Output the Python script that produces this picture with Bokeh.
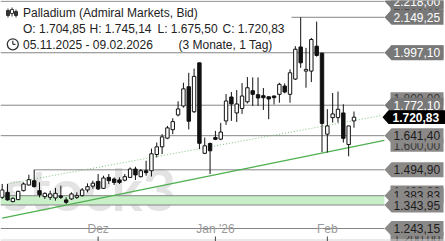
import pandas as pd
from bokeh.plotting import figure
from bokeh.models import Range1d
from bokeh.core.properties import value
from bokeh.embed import file_html
from bokeh.resources import INLINE

# ---------------- data ----------------
title = "Palladium (Admiral Markets, Bid)"
ohlc_text = ["O: 1.704,85", "H: 1.745,14", "L: 1.675,50", "C: 1.720,83"]
period_text = ["05.11.2025 - 09.02.2026", "(3 Monate, 1 Tag)"]
watermark = "stock3"

holidays = ["2025-12-25", "2026-01-01"]
dates = [d for d in pd.bdate_range("2025-11-05", "2026-02-09") if d.strftime("%Y-%m-%d") not in holidays]

opens = [1376.9, 1398.3, 1358.5, 1367.1, 1405.5, 1429.9, 1448.3, 1405.5, 1379.9, 1376.9,
         1374.3, 1382.9, 1365.8, 1370.1, 1376.9, 1384.2, 1408.5, 1424.8, 1445.3, 1415.4,
         1462.4, 1455.5, 1451.3, 1450.4, 1462.4, 1498.3, 1465.4, 1491.0, 1491.0, 1560.7,
         1593.6, 1630.8, 1667.1, 1730.4, 1768.8, 1851.3, 1744.0, 1953.9, 1565.8, 1607.7,
         1633.3, 1626.5, 1704.7, 1807.3, 1738.9, 1758.1, 1786.8, 1834.2, 1817.1, 1812.9,
         1808.2, 1811.6, 1818.8, 1854.3, 1818.8, 1884.2, 2021.9, 1918.4, 1918.4, 2025.3,
         1995.4, 1647.9, 1718.8, 1718.8, 1738.9, 1603.4, 1704.85]
highs = [1434.2, 1434.2, 1376.9, 1405.5, 1441.0, 1473.9, 1494.9, 1441.0, 1398.3, 1405.5,
         1417.1, 1426.9, 1376.9, 1398.3, 1398.3, 1417.1, 1436.7, 1448.3, 1476.9, 1469.6,
         1476.9, 1462.4, 1462.4, 1476.9, 1505.1, 1508.1, 1498.3, 1533.8, 1585.9, 1612.0,
         1647.9, 1683.3, 1716.3, 1788.9, 1868.4, 1911.2, 1929.1, 1953.9, 1633.3, 1612.0,
         1662.0, 1696.2, 1820.1, 1828.7, 1837.2, 1867.1, 1892.8, 1891.5, 1891.5, 1845.8,
         1809.4, 1813.7, 1868.4, 1865.8, 1925.7, 2025.3, 2149.25, 2018.0, 2060.7, 2130.8,
         1997.1, 1755.2, 1824.4, 1830.8, 1776.1, 1683.3, 1745.14]
lows = [1370.1, 1362.8, 1355.5, 1365.8, 1402.5, 1426.9, 1419.7, 1376.9, 1370.1, 1365.8,
        1362.8, 1370.1, 1348.7, 1365.8, 1370.1, 1379.9, 1398.3, 1414.1, 1408.5, 1412.8,
        1434.2, 1429.9, 1434.2, 1445.3, 1459.8, 1451.3, 1462.4, 1469.6, 1466.2, 1547.9,
        1562.4, 1626.5, 1647.9, 1724.0, 1761.6, 1668.4, 1738.9, 1583.8, 1562.4, 1476.9,
        1622.2, 1622.2, 1687.6, 1704.7, 1700.4, 1734.6, 1779.5, 1768.8, 1768.8, 1751.7,
        1712.0, 1775.2, 1782.9, 1823.1, 1782.9, 1880.0, 1932.5, 1847.0, 1871.4, 1980.4,
        1570.9, 1569.2, 1697.5, 1697.5, 1612.0, 1553.0, 1675.50]
closes = [1408.5, 1365.8, 1372.6, 1402.5, 1434.2, 1452.6, 1422.6, 1388.4, 1394.0, 1391.4,
          1394.0, 1376.9, 1355.5, 1391.4, 1384.2, 1408.5, 1422.6, 1437.6, 1412.8, 1459.8,
          1448.3, 1441.0, 1441.0, 1465.4, 1498.3, 1473.1, 1491.0, 1482.5, 1563.7, 1593.6,
          1636.3, 1674.8, 1701.7, 1756.0, 1842.3, 1703.4, 1895.8, 1608.6, 1597.9, 1576.5,
          1625.7, 1656.9, 1790.2, 1777.4, 1777.4, 1811.6, 1847.0, 1818.8, 1803.0, 1804.3,
          1798.7, 1804.3, 1861.6, 1828.7, 1911.2, 2012.4, 1953.9, 1925.7, 2053.9, 1985.5,
          1694.0, 1683.3, 1734.6, 1754.7, 1629.9, 1683.3, 1720.83]

resistance_levels = [2218.00, 2149.25, 1997.10, 1772.10]
support_levels = [1641.40, 1494.90, 1383.83, 1343.95, 1243.15]
level_start_bar = {1494.90: 6}
band = [1383.83, 1343.95]
axis_ticks = [2200, 2000, 1800, 1600, 1400, 1200]
month_labels = ["Dez", "Jan '26", "Feb"]
month_starts = ["2025-12", "2026-01", "2026-02"]

trend_green_x = [0, 71.7]
trend_green_y = [1287.6, 1621.2]
trend_dot_x = [1, 71.2]
trend_dot_y = [1434.9, 1727.9]

# ---------------- layout helpers ----------------
W, H = 445, 241
BAR0_PX, BAR_PX = 1.7, 5.33
PRICE_TOP, PRICE_PER_PX = 2221.3, 4.29


def X(px):
    return (px - BAR0_PX) / BAR_PX


def Y(py):
    return PRICE_TOP - PRICE_PER_PX * py


def PY(price):
    return (PRICE_TOP - price) / PRICE_PER_PX


def de(v):
    s = f"{v:,.2f}"
    return s.replace(",", "X").replace(".", ",").replace("X", ".")


FONT = value("Liberation Sans")

p = figure(width=W, height=H, x_range=Range1d(X(0), X(W)), y_range=Range1d(Y(H), Y(0)),
           output_backend="svg", toolbar_location=None, x_axis_type=None, y_axis_type=None,
           min_border=0, outline_line_color=None,
           background_fill_color="white", border_fill_color="white")

# watermark
p.text(x=[X(3)], y=[Y(188)], text=[watermark], text_font=value("Lato"), text_font_style="bold",
       text_font_size="58px", text_color="#e3e3e3", text_baseline="alphabetic", text_align="left")

# green zone
p.quad(left=[X(0)], right=[X(384)], top=[band[0]], bottom=[band[1]],
       fill_color="#c8efc8", line_color=None)

# horizontal levels
levels = resistance_levels + support_levels
p.segment(x0=[level_start_bar.get(v, X(0)) for v in levels], y0=levels,
          x1=[X(384)] * len(levels), y1=levels, line_color="#858585", line_width=1)

# trendlines
p.line(trend_dot_x, trend_dot_y, line_color="#7cc47c", line_width=1, line_dash="1 2")
p.line(trend_green_x, trend_green_y, line_color="#4fb04f", line_width=1.2)

# candles
idx = list(range(len(closes)))
p.segment(x0=idx, y0=lows, x1=idx, y1=highs, line_color="#111111", line_width=1)
p.vbar(x=idx, width=0.64, top=[max(o, c) for o, c in zip(opens, closes)],
       bottom=[min(o, c) for o, c in zip(opens, closes)],
       fill_color=["white" if c >= o else "#111111" for o, c in zip(opens, closes)],
       line_color="#111111", line_width=1)

# legend box
p.quad(left=[X(0)], right=[X(291)], top=[Y(3)], bottom=[Y(50)], fill_color="white", line_color=None)
# candle icon
icx = [7.5, 11.5, 15.5]
p.segment(x0=[X(x) for x in icx], y0=[Y(8), Y(7), Y(9)], x1=[X(x) for x in icx],
          y1=[Y(17), Y(16), Y(17)], line_color="#333333", line_width=1)
p.quad(left=[X(x - 1.5) for x in icx], right=[X(x + 1.5) for x in icx],
       top=[Y(10), Y(9), Y(11)], bottom=[Y(15), Y(13), Y(15)],
       fill_color=["#333333", "white", "#333333"], line_color="#333333", line_width=1)
# clock icon
p.scatter(x=[X(12.3)], y=[Y(43.8)], marker="circle", size=11, fill_color=None,
          line_color="#333333", line_width=1.3)
p.segment(x0=[X(12.3), X(12.3)], y0=[Y(43.8), Y(43.8)], x1=[X(12.3), X(15)], y1=[Y(40.3), Y(43.8)],
          line_color="#333333", line_width=1.2)

p.text(x=[X(22.5)], y=[Y(12)], text=[title], text_font=FONT, text_font_size="12px",
       text_color="#222222", text_baseline="middle")
p.text(x=[X(22.5), X(89), X(157), X(222)], y=[Y(28.3)] * 4, text=ohlc_text, text_font=FONT,
       text_font_size="12px", text_color="#222222", text_baseline="middle")
p.text(x=[X(22.5), X(178)], y=[Y(44)] * 2, text=period_text, text_font=FONT,
       text_font_size="12px", text_color="#222222", text_baseline="middle")

# price-axis tick labels (boxes, mostly covered by level labels)
p.quad(left=[X(390)] * len(axis_ticks), right=[X(443)] * len(axis_ticks),
       top=[Y(PY(v) - 6.5) for v in axis_ticks], bottom=[Y(PY(v) + 6.5) for v in axis_ticks],
       fill_color="#8b8988", line_color=None)
p.text(x=[X(393)] * len(axis_ticks), y=axis_ticks, text=[de(v) for v in axis_ticks], text_font=FONT,
       text_font_size="12px", text_color="#3a3a3a", text_baseline="middle")


def tag_shapes(vals, tip, body, right, half):
    xs, ys = [], []
    for v in vals:
        py = PY(v)
        xs.append([X(tip), X(body), X(right), X(right), X(body)])
        ys.append([v, Y(py - half), Y(py - half), Y(py + half), Y(py + half)])
    return xs, ys


xs, ys = tag_shapes(resistance_levels, 384, 391, 443, 7.5)
p.patches(xs, ys, fill_color="#787878", line_color=None)
p.text(x=[X(393)] * len(resistance_levels), y=resistance_levels, text=[de(v) for v in resistance_levels],
       text_font=FONT, text_font_size="12px", text_color="white", text_baseline="middle")
for v in support_levels:
    xs, ys = tag_shapes([v], 384, 391, 443, 7.5)
    p.patches(xs, ys, fill_color="#8b8988", line_color=None)
    p.text(x=[X(393)], y=[v], text=[de(v)], text_font=FONT, text_font_size="12px",
           text_color="#1c1c1c", text_baseline="middle")

# current price
last = closes[-1]
xs, ys = tag_shapes([last], 382, 388, 445, 6.8)
p.patches(xs, ys, fill_color="black", line_color=None)
p.text(x=[X(392)], y=[last], text=[de(last)], text_font=FONT, text_font_size="12px",
       text_font_style="bold", text_color="white", text_baseline="middle")

# time axis labels
month_idx = [next(i for i, d in enumerate(dates) if d.strftime("%Y-%m") == m) for m in month_starts]
p.segment(x0=[X(0)], y0=[Y(239.5)], x1=[X(W)], y1=[Y(239.5)], line_color="#d5d5d5", line_width=1)
p.text(x=month_idx, y=[Y(228.5)] * 3, text=month_labels, text_font=FONT, text_font_size="12px",
       text_color="#9a9a9a", text_align="center", text_baseline="middle")
p.segment(x0=month_idx, y0=[Y(236)] * 3, x1=month_idx, y1=[Y(241)] * 3, line_color="#444444", line_width=1)

open("out.html", "w").write(file_html(p, INLINE))
